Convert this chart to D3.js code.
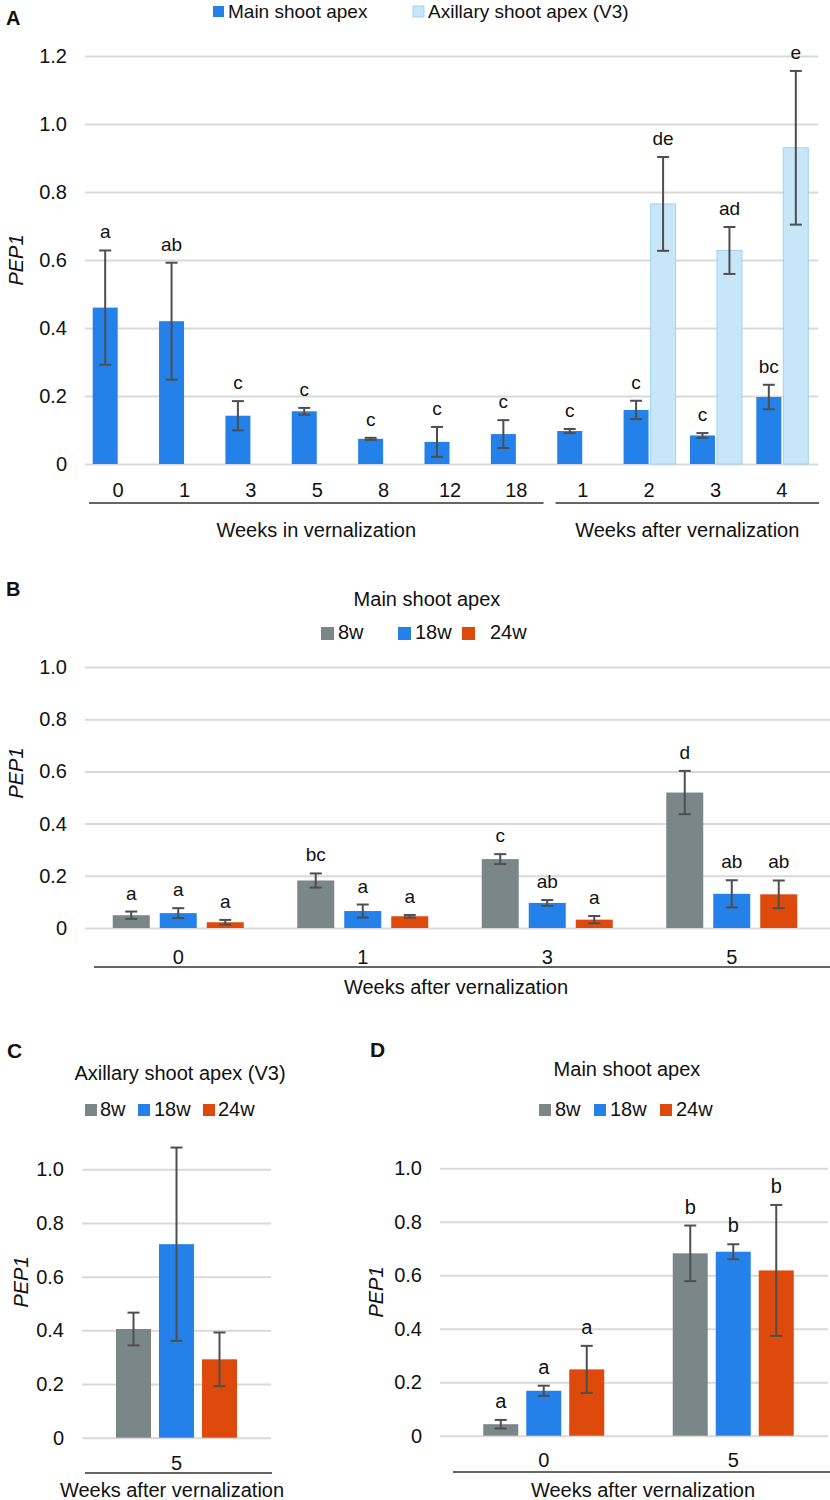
<!DOCTYPE html>
<html>
<head>
<meta charset="utf-8">
<script src="https://cdn.jsdelivr.net/npm/d3@7"></script>
<style>
body { margin: 0; background: #fff; }
svg { display: block; font-family: "Liberation Sans", Arial, sans-serif; }
</style>
</head>
<body>
<div id="chart"></div>
<script>
//Panel A: main vs axillary shoot apex
var aWeeks = ["0", "1", "3", "5", "8", "12", "18", "1", "2", "3", "4"];
var aMain = [0.46, 0.42, 0.142, 0.155, 0.074, 0.065, 0.088, 0.097, 0.159, 0.084, 0.197];
var aMainErr = [0.168, 0.172, 0.043, 0.010, 0.003, 0.044, 0.041, 0.006, 0.027, 0.007, 0.036];
var aMainSig = ["a", "ab", "c", "c", "c", "c", "c", "c", "c", "c", "bc"];
var aAxil = [null, null, null, null, null, null, null, null, 0.765, 0.628, 0.93];
var aAxilErr = [null, null, null, null, null, null, null, null, 0.138, 0.069, 0.226];
var aAxilSig = [null, null, null, null, null, null, null, null, "de", "ad", "e"];
var aGroups = ["Weeks in vernalization", "Weeks after vernalization"];
var aGroupSize = [7, 4];
var aTicks = [0, 0.2, 0.4, 0.6, 0.8, 1.0, 1.2];
var aSeries = ["Main shoot apex", "Axillary shoot apex (V3)"];

//Panels B-D: vernalization length
var ages = ["8w", "18w", "24w"];
var ticks10 = [0, 0.2, 0.4, 0.6, 0.8, 1.0];

//Panel B
var bWeeks = ["0", "1", "3", "5"];
var b8w = [0.049, 0.182, 0.264, 0.519];
var b8wErr = [0.014, 0.027, 0.019, 0.083];
var b8wSig = ["a", "bc", "c", "d"];
var b18w = [0.057, 0.065, 0.096, 0.131];
var b18wErr = [0.019, 0.025, 0.011, 0.052];
var b18wSig = ["a", "a", "ab", "ab"];
var b24w = [0.022, 0.045, 0.032, 0.129];
var b24wErr = [0.009, 0.005, 0.014, 0.053];
var b24wSig = ["a", "a", "a", "ab"];

//Panel C
var cWeeks = ["5"];
var c8w = [0.405], c8wErr = [0.061];
var c18w = [0.721], c18wErr = [0.36];
var c24w = [0.292], c24wErr = [0.1];

//Panel D
var dWeeks = ["0", "5"];
var d8w = [0.043, 0.682], d8wErr = [0.016, 0.104], d8wSig = ["a", "b"];
var d18w = [0.168, 0.688], d18wErr = [0.019, 0.028], d18wSig = ["a", "b"];
var d24w = [0.248, 0.618], d24wErr = [0.088, 0.245], d24wSig = ["a", "b"];

//Colors
var colorGrey = "#7b8786";
var colorBlue = "#2481ea";
var colorOrange = "#dd4a0c";
var colorPale = "#c7e6f8";
var colorPaleEdge = "#a3d2f0";
var colorGrid = "#d9d9d9";
var colorErr = "#4e4e4e";
var colorText = "#111";
var ageColors = [colorGrey, colorBlue, colorOrange];

var svg = d3.select("#chart").append("svg")
    .attr("width", 830)
    .attr("height", 1500);

function fmt(d) { return d === 0 ? "0" : d3.format(".1f")(d); }

//Gridlines + y labels through d3 axis
function yGrid(y, ticks, x0, x1) {
    var g = svg.append("g")
        .attr("transform", "translate(" + x0 + ",0)")
        .call(d3.axisLeft(y).tickValues(ticks).tickSize(-(x1 - x0)).tickPadding(18).tickFormat(fmt));
    g.select(".domain").remove();
    g.selectAll(".tick line").attr("stroke", colorGrid).attr("stroke-width", 2);
    g.selectAll(".tick text").attr("fill", colorText).attr("font-size", 20)
        .attr("font-family", "Liberation Sans, Arial, sans-serif");
}

function text(x, y, s, size, anchor) {
    return svg.append("text").attr("x", x).attr("y", y).text(s)
        .attr("font-size", size).attr("fill", colorText)
        .attr("text-anchor", anchor || "middle");
}

function yTitle(x, y) {
    svg.append("text").text("PEP1")
        .attr("transform", "translate(" + x + "," + y + ") rotate(-90)")
        .attr("text-anchor", "middle").attr("dy", "0.35em")
        .attr("font-size", 20).attr("font-style", "italic").attr("fill", colorText);
}

function underline(x0, x1, y) {
    svg.append("line").attr("x1", x0).attr("x2", x1).attr("y1", y).attr("y2", y)
        .attr("stroke", "#333").attr("stroke-width", 1.5);
}

//One bar with its error bar and letter
function bar(y, cx, w, v, e, sig, fill, edge, sigSize) {
    if (v == null) return;
    svg.append("rect")
        .attr("x", cx - w / 2).attr("width", w)
        .attr("y", y(v)).attr("height", y(0) - y(v))
        .attr("fill", fill)
        .attr("stroke", edge || "none").attr("stroke-width", edge ? 1 : 0);
    var top = y(v + e), bot = y(Math.max(0, v - e));
    svg.append("line").attr("x1", cx).attr("x2", cx).attr("y1", top).attr("y2", bot)
        .attr("stroke", colorErr).attr("stroke-width", 2);
    [top, bot].forEach(function (yy) {
        svg.append("line").attr("x1", cx - 6).attr("x2", cx + 6).attr("y1", yy).attr("y2", yy)
            .attr("stroke", colorErr).attr("stroke-width", 2);
    });
    if (sig) text(cx, top - 12, sig, sigSize);
}

function legend(items, y, size) {
    items.forEach(function (it) {
        svg.append("rect").attr("x", it.sx).attr("y", y - 12).attr("width", it.size).attr("height", it.size)
            .attr("fill", it.color).attr("stroke", it.edge || "none");
        text(it.tx, y, it.label, size || 20, "start");
    });
}

function panelLetter(x, y, s, size) {
    text(x, y, s, size, "start").attr("font-weight", "bold");
}

//---------------- Panel A ----------------
var yA = d3.scaleLinear().domain([0, 1.2]).range([464, 56]);
var xA = d3.scaleBand().domain(d3.range(aWeeks.length)).range([85, 815]);
var bwA = xA.bandwidth();
yGrid(yA, aTicks, 85, 818);

aWeeks.forEach(function (wk, i) {
    var c = xA(i) + bwA / 2;
    bar(yA, c - 13, 25, aMain[i], aMainErr[i], aMainSig[i], colorBlue, null, 19);
    bar(yA, c + 14, 25, aAxil[i], aAxilErr[i], aAxilSig[i], colorPale, colorPaleEdge, 19);
    text(c, 497, wk, 20);
});

var start = 0;
aGroups.forEach(function (label, k) {
    var x0 = xA(start) + (k == 0 ? 4 : 6);
    var x1 = xA(start + aGroupSize[k] - 1) + bwA + (k == 0 ? -6 : 4);
    underline(x0, x1, 503);
    text((x0 + x1) / 2, 537, label, 20);
    start += aGroupSize[k];
});
yTitle(16, 260);
panelLetter(6, 25, "A", 20);
legend([
    { sx: 213, tx: 228, size: 11, color: colorBlue, label: aSeries[0] },
    { sx: 413, tx: 428, size: 11, color: colorPale, edge: colorPaleEdge, label: aSeries[1] }
], 18, 19);

//---------------- Panel B ----------------
var yB = d3.scaleLinear().domain([0, 1]).range([928, 667]);
var xB = d3.scaleBand().domain(d3.range(bWeeks.length)).range([86, 824]);
yGrid(yB, ticks10, 85, 830);
var bVals = [b8w, b18w, b24w], bErrs = [b8wErr, b18wErr, b24wErr], bSigs = [b8wSig, b18wSig, b24wSig];
bWeeks.forEach(function (wk, i) {
    var c = xB(i) + xB.bandwidth() / 2;
    for (var s = 0; s < 3; s++) {
        bar(yB, c + (s - 1) * 47, 37, bVals[s][i], bErrs[s][i], bSigs[s][i], ageColors[s], null, 19);
    }
    text(c, 964, wk, 20);
});
underline(94, 830, 967);
text(456, 994, "Weeks after vernalization", 20);
yTitle(16, 773);
panelLetter(6, 596, "B", 20);
text(427, 606, "Main shoot apex", 20);
legend([
    { sx: 321, tx: 338, size: 13, color: colorGrey, label: ages[0] },
    { sx: 398, tx: 415, size: 13, color: colorBlue, label: ages[1] },
    { sx: 462, tx: 490, size: 13, color: colorOrange, label: ages[2] }
], 639);

//---------------- Panel C ----------------
var yC = d3.scaleLinear().domain([0, 1]).range([1437.7, 1169.3]);
var xC = d3.scaleBand().domain(d3.range(cWeeks.length)).range([82, 271]);
yGrid(yC, ticks10, 82, 271);
var cVals = [c8w, c18w, c24w], cErrs = [c8wErr, c18wErr, c24wErr];
cWeeks.forEach(function (wk, i) {
    var c = xC(i) + xC.bandwidth() / 2;
    for (var s = 0; s < 3; s++) {
        bar(yC, c + (s - 1) * 43, 35, cVals[s][i], cErrs[s][i], null, ageColors[s], null, 20);
    }
    text(c, 1470, wk, 20);
});
underline(85, 272, 1473);
text(172, 1497, "Weeks after vernalization", 20);
yTitle(21, 1282);
panelLetter(7, 1058, "C", 21);
text(180, 1080, "Axillary shoot apex (V3)", 20);
legend([
    { sx: 85, tx: 100, size: 12, color: colorGrey, label: ages[0] },
    { sx: 138, tx: 154, size: 12, color: colorBlue, label: ages[1] },
    { sx: 203, tx: 218, size: 12, color: colorOrange, label: ages[2] }
], 1116);

//---------------- Panel D ----------------
var yD = d3.scaleLinear().domain([0, 1]).range([1435.7, 1168.3]);
var xD = d3.scaleBand().domain(d3.range(dWeeks.length)).range([449, 828]);
yGrid(yD, ticks10, 440, 828);
var dVals = [d8w, d18w, d24w], dErrs = [d8wErr, d18wErr, d24wErr], dSigs = [d8wSig, d18wSig, d24wSig];
dWeeks.forEach(function (wk, i) {
    var c = xD(i) + xD.bandwidth() / 2;
    for (var s = 0; s < 3; s++) {
        bar(yD, c + (s - 1) * 43, 35, dVals[s][i], dErrs[s][i], dSigs[s][i], ageColors[s], null, 20);
    }
    text(c, 1467, wk, 20);
});
underline(453, 830, 1472);
text(643, 1497, "Weeks after vernalization", 20);
yTitle(376, 1292);
panelLetter(370, 1057, "D", 21);
text(627, 1076, "Main shoot apex", 20);
legend([
    { sx: 539, tx: 555, size: 12, color: colorGrey, label: ages[0] },
    { sx: 594, tx: 610, size: 12, color: colorBlue, label: ages[1] },
    { sx: 660, tx: 676, size: 12, color: colorOrange, label: ages[2] }
], 1116);
</script>
</body>
</html>
